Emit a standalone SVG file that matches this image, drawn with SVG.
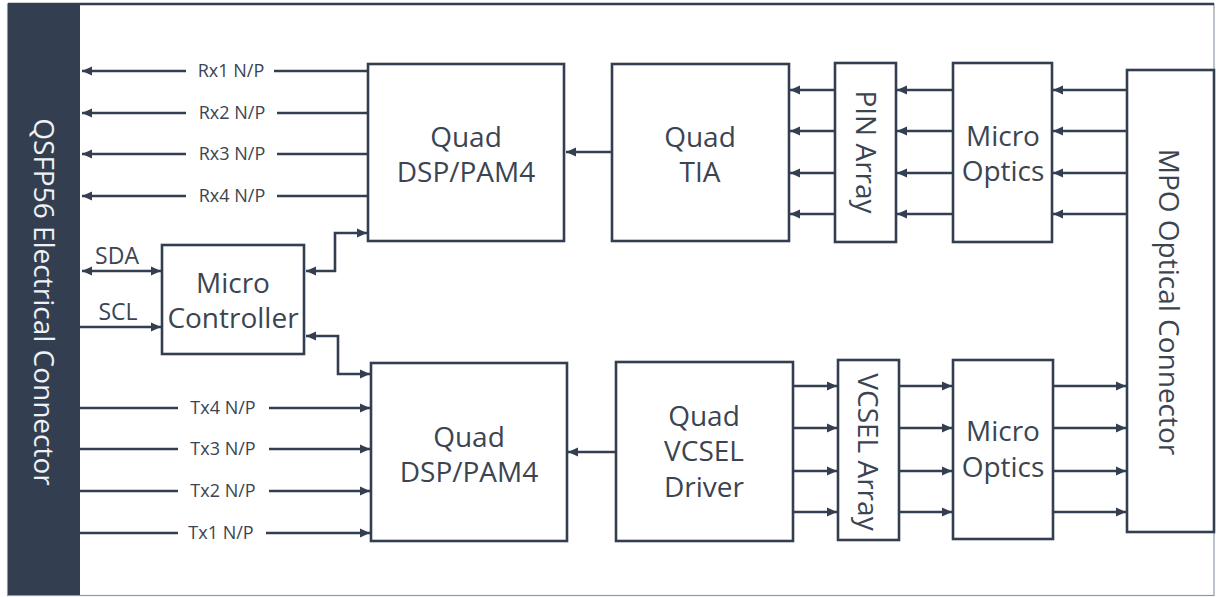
<svg xmlns="http://www.w3.org/2000/svg" width="1216" height="597" viewBox="0 0 1216 597">
<defs>
<marker id="ah" markerUnits="userSpaceOnUse" markerWidth="11" markerHeight="10" refX="10" refY="5" orient="auto-start-reverse"><path d="M0,0.5 L10,5 L0,9.5 z" fill="#333f50"/></marker>
<style>
.box{fill:#fff;stroke:#333f50;stroke-width:2.6}
.ln{fill:none;stroke:#333f50;stroke-width:2.6}
.ar{fill:none;stroke:#333f50;stroke-width:2.6;marker-end:url(#ah)}
.bi{fill:none;stroke:#333f50;stroke-width:2.6;marker-end:url(#ah);marker-start:url(#ah)}
.t{font-family:"Open Sans","Noto Sans",sans-serif;font-size:28px;fill:#3b4552;text-anchor:middle}
.s{font-family:"Open Sans","Noto Sans",sans-serif;font-size:18px;fill:#3b4552;text-anchor:middle}
.m{font-family:"Open Sans","Noto Sans",sans-serif;font-size:23px;fill:#3b4552;text-anchor:middle}
.lb{fill:#fff}
</style>
</defs>
<rect x="0" y="0" width="1216" height="597" fill="#fff"/>
<rect x="7.5" y="4" width="1206.5" height="591.5" fill="none" stroke="#8e99a5" stroke-width="1.2"/>
<line x1="8" y1="4" x2="1214" y2="4" stroke="#333f50" stroke-width="2.5"/>

<g id="connector-left">
<rect x="8" y="3" width="72" height="592" fill="#333f50"/>
<text class="t" style="fill:#eef1f5" transform="translate(44,302) rotate(90)" dy="0.35em">QSFP56 Electrical Connector</text>
</g>

<g id="connectors">
<line class="ar" x1="368" y1="71" x2="82" y2="71"/>
<line class="ar" x1="368" y1="113" x2="82" y2="113"/>
<line class="ar" x1="368" y1="154" x2="82" y2="154"/>
<line class="ar" x1="368" y1="196" x2="82" y2="196"/>
<line class="ar" x1="80" y1="408" x2="370" y2="408"/>
<line class="ar" x1="80" y1="449" x2="370" y2="449"/>
<line class="ar" x1="80" y1="491" x2="370" y2="491"/>
<line class="ar" x1="80" y1="533" x2="370" y2="533"/>
<line class="bi" x1="82" y1="271" x2="161" y2="271"/>
<line class="ar" x1="80" y1="327" x2="161" y2="327"/>
<polyline class="bi" points="306,271 335,271 335,233 367,233"/>
<polyline class="bi" points="306,336 338,336 338,374 370,374"/>
<line class="ar" x1="612" y1="152" x2="566" y2="152"/>
<line class="ar" x1="616" y1="452" x2="568" y2="452"/>
<line class="ar" x1="835" y1="90" x2="790" y2="90"/>
<line class="ar" x1="835" y1="131" x2="790" y2="131"/>
<line class="ar" x1="835" y1="173" x2="790" y2="173"/>
<line class="ar" x1="835" y1="214" x2="790" y2="214"/>
<line class="ar" x1="953" y1="90" x2="897" y2="90"/>
<line class="ar" x1="953" y1="131" x2="897" y2="131"/>
<line class="ar" x1="953" y1="173" x2="897" y2="173"/>
<line class="ar" x1="953" y1="214" x2="897" y2="214"/>
<line class="ar" x1="1127" y1="90" x2="1053" y2="90"/>
<line class="ar" x1="1127" y1="131" x2="1053" y2="131"/>
<line class="ar" x1="1127" y1="173" x2="1053" y2="173"/>
<line class="ar" x1="1127" y1="214" x2="1053" y2="214"/>
<line class="ar" x1="793" y1="386" x2="837" y2="386"/>
<line class="ar" x1="793" y1="428" x2="837" y2="428"/>
<line class="ar" x1="793" y1="471" x2="837" y2="471"/>
<line class="ar" x1="793" y1="512" x2="837" y2="512"/>
<line class="ar" x1="899" y1="386" x2="952" y2="386"/>
<line class="ar" x1="899" y1="428" x2="952" y2="428"/>
<line class="ar" x1="899" y1="471" x2="952" y2="471"/>
<line class="ar" x1="899" y1="512" x2="952" y2="512"/>
<line class="ar" x1="1054" y1="386" x2="1126" y2="386"/>
<line class="ar" x1="1054" y1="428" x2="1126" y2="428"/>
<line class="ar" x1="1054" y1="471" x2="1126" y2="471"/>
<line class="ar" x1="1054" y1="512" x2="1126" y2="512"/>
<g id="signal-labels">
<rect class="lb" x="186" y="58" width="88" height="26"/><text class="s" x="231" y="77">Rx1 N/P</text>
<rect class="lb" x="186" y="100" width="91" height="26"/><text class="s" x="232" y="119">Rx2 N/P</text>
<rect class="lb" x="186" y="141" width="91" height="26"/><text class="s" x="232" y="160">Rx3 N/P</text>
<rect class="lb" x="186" y="183" width="91" height="26"/><text class="s" x="232" y="202">Rx4 N/P</text>
<rect class="lb" x="178" y="395" width="91" height="26"/><text class="s" x="223" y="414">Tx4 N/P</text>
<rect class="lb" x="178" y="436" width="91" height="26"/><text class="s" x="223" y="455">Tx3 N/P</text>
<rect class="lb" x="178" y="478" width="91" height="26"/><text class="s" x="223" y="497">Tx2 N/P</text>
<rect class="lb" x="178" y="520" width="88" height="26"/><text class="s" x="221" y="539">Tx1 N/P</text>
<text class="m" x="117" y="264">SDA</text>
<text class="m" x="118" y="320">SCL</text>
</g>
</g>

<g id="dsp-rx">
<rect class="box" x="368" y="64" width="196" height="177"/>
<text class="t" x="466" y="147">Quad</text>
<text class="t" x="466" y="182">DSP/PAM4</text>
</g>
<g id="tia">
<rect class="box" x="612" y="64" width="177" height="177"/>
<text class="t" x="700" y="147">Quad</text>
<text class="t" x="700" y="182">TIA</text>
</g>
<g id="pin-array">
<rect class="box" x="835" y="63" width="61" height="179"/>
<text class="t" transform="translate(866,152) rotate(90)" dy="0.35em">PIN Array</text>
</g>
<g id="micro-optics-rx">
<rect class="box" x="953" y="63" width="99" height="179"/>
<text class="t" x="1003" y="146">Micro</text>
<text class="t" x="1003" y="181">Optics</text>
</g>
<g id="mpo">
<rect class="box" x="1127" y="70" width="87" height="462"/>
<text class="t" transform="translate(1169,302) rotate(90)" dy="0.35em">MPO Optical Connector</text>
</g>
<g id="micro-controller">
<rect class="box" x="162" y="245" width="142" height="109"/>
<text class="t" x="233" y="293">Micro</text>
<text class="t" x="233" y="328">Controller</text>
</g>
<g id="dsp-tx">
<rect class="box" x="371" y="363" width="196" height="178"/>
<text class="t" x="469" y="447">Quad</text>
<text class="t" x="469" y="482">DSP/PAM4</text>
</g>
<g id="vcsel-driver">
<rect class="box" x="616" y="362" width="177" height="179"/>
<text class="t" x="704" y="426">Quad</text>
<text class="t" x="704" y="461">VCSEL</text>
<text class="t" x="704" y="497">Driver</text>
</g>
<g id="vcsel-array">
<rect class="box" x="838" y="360" width="61" height="180"/>
<text class="t" transform="translate(868,452) rotate(90)" dy="0.35em">VCSEL Array</text>
</g>
<g id="micro-optics-tx">
<rect class="box" x="953" y="360" width="100" height="179"/>
<text class="t" x="1003" y="441">Micro</text>
<text class="t" x="1003" y="477">Optics</text>
</g>
</svg>
